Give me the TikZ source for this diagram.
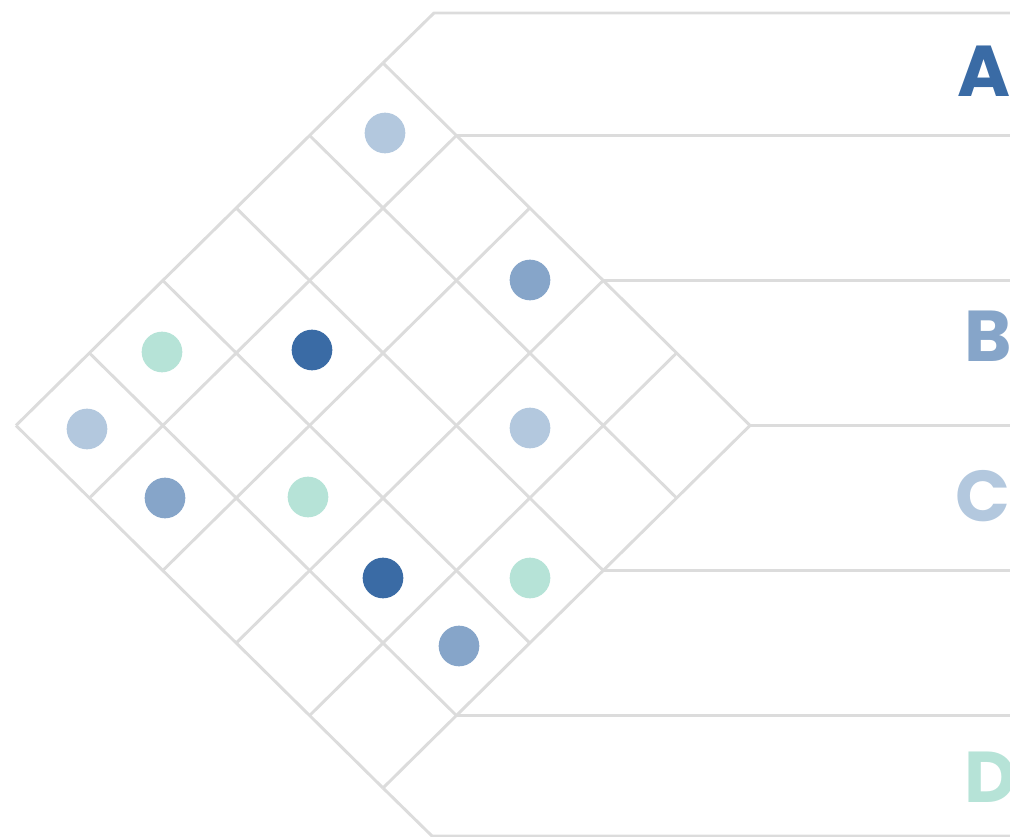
\documentclass[tikz,border=0pt]{standalone}
\usepackage{fontspec}
\newfontfamily\letterfont{Poppins}
\definecolor{gridgray}{RGB}{220,220,220}
\definecolor{darkblue}{RGB}{58,107,165}
\definecolor{midblue}{RGB}{134,165,201}
\definecolor{lightblue}{RGB}{179,200,222}
\definecolor{mintgreen}{RGB}{182,227,215}

\begin{document}
\begin{tikzpicture}[
  x=0.75pt, y=-0.75pt,
  gridline/.style={draw=gridgray, line width=2.2pt, line join=round},
  dot/.style={circle, inner sep=0pt, minimum size=30.5pt},
  letter/.style={anchor=base west, inner sep=0pt,
    font=\letterfont\bfseries\fontsize{54}{54}\selectfont}
]
\useasboundingbox (0,0) rectangle (1010,837);
\clip (0,0) rectangle (1010,837);
% rotated 5x5 grid, origin at the left corner
\begin{scope}[shift={(16,425.5)}, x={(55.05pt,54.375pt)}, y={(55.05pt,-54.375pt)}]
  \foreach \k in {0,...,5} {
    \draw[gridline] (0,\k) -- (5,\k);
    \draw[gridline] (\k,0) -- (\k,5);
  }
  \coordinate (top) at (5,0);
  \coordinate (bottom) at (0,5);
  \coordinate (r1) at (5,1);
  \coordinate (r3) at (5,3);
  \coordinate (r5) at (5,5);
  \coordinate (r7) at (3,5);
  \coordinate (r9) at (1,5);
\end{scope}
\coordinate (edge) at (1020,0);
\coordinate (topend) at (434,13);
\coordinate (botend) at (432,836);
\draw[gridline] (top) -- (topend) -- (topend -| edge);
\draw[gridline] (bottom) -- (botend) -- (botend -| edge);
\foreach \r in {r1,r3,r5,r7,r9}
  \draw[gridline] (\r) -- (\r -| edge);
% dots in the cells
\foreach \x/\y/\c [count=\n] in {385/133/lightblue, 530/280/midblue,
    162/352/mintgreen, 312/350/darkblue, 87/429/lightblue, 530/428/lightblue,
    165/498/midblue, 308/497/mintgreen, 383/578/darkblue, 530/578/mintgreen,
    459/646/midblue}
  \node[dot, fill=\c] (dot\n) at (\x,\y) {};
% row letters, cut by the right border
\node[letter, text=darkblue] (A) at (957,97) {A};
\node[letter, text=midblue] (B) at (964,362) {B};
\node[letter, text=lightblue] (C) at (955,522) {C};
\node[letter, text=mintgreen] (D) at (964,802) {D};
\end{tikzpicture}
\end{document}
